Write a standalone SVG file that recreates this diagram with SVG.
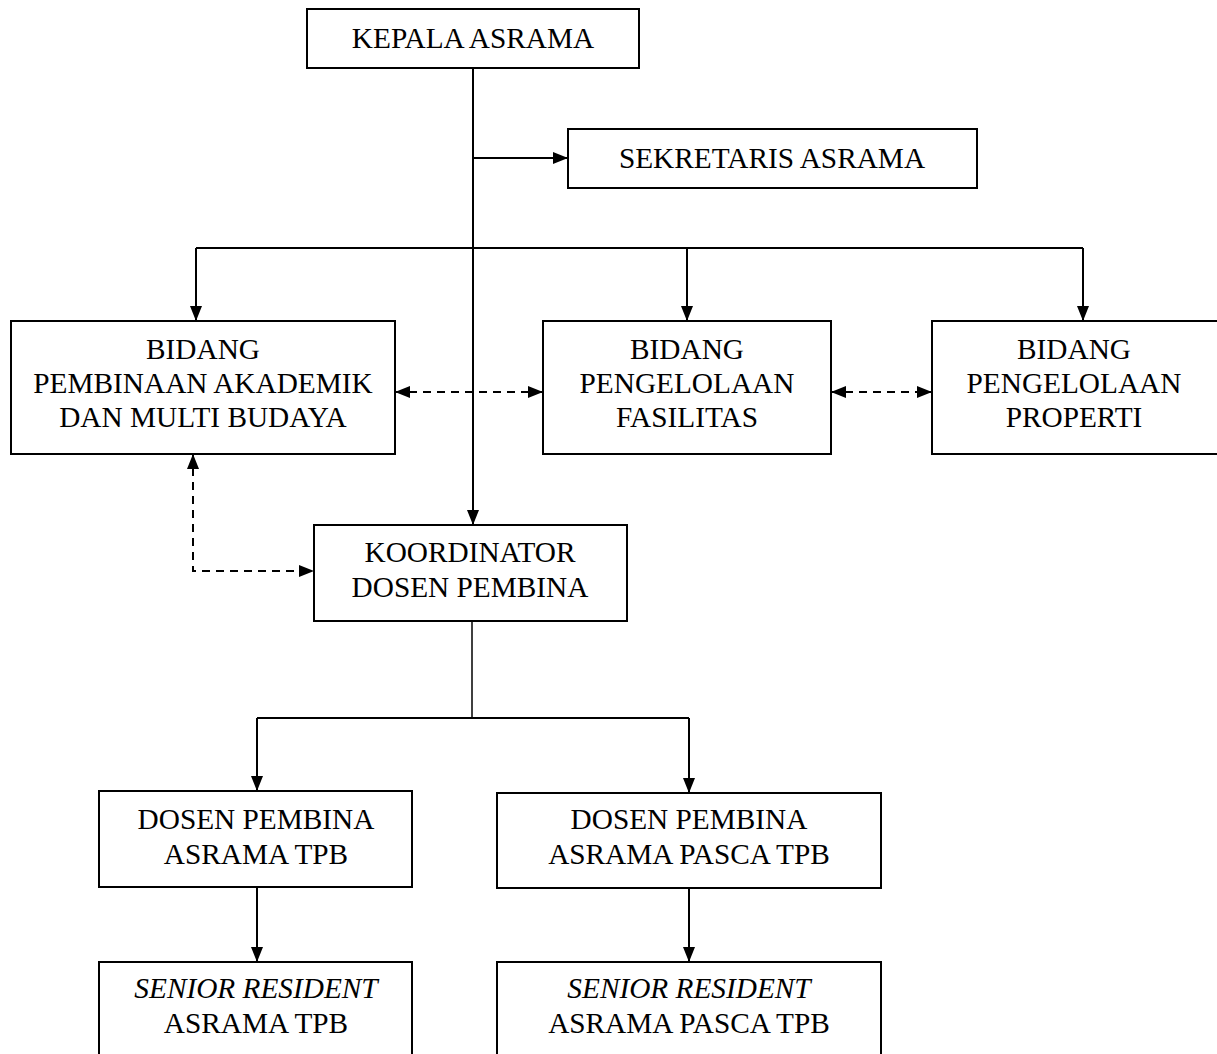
<svg xmlns="http://www.w3.org/2000/svg" width="1217" height="1054" viewBox="0 0 1217 1054">
<style>
.box{fill:#fff;stroke:#000;stroke-width:2}
.t{font-family:"Liberation Serif","Times New Roman",serif;font-size:29.3px;fill:#000;text-anchor:middle}
.i{font-style:italic}
.ln{fill:none;stroke:#000;stroke-width:2}
.thin{fill:none;stroke:#000;stroke-width:1.5}
.dash{fill:none;stroke:#000;stroke-width:2;stroke-dasharray:8 6}
</style>
<defs>
<marker id="ah" viewBox="0 0 15 12" refX="15" refY="6" markerWidth="15" markerHeight="12" orient="auto-start-reverse" markerUnits="userSpaceOnUse">
<path d="M0,0 L15,6 L0,12 z" fill="#000"/>
</marker>
</defs>
<rect width="1217" height="1054" fill="#fff"/>
<g id="connectors">
<path class="ln" d="M473,68 V525" marker-end="url(#ah)"/>
<path class="ln" d="M473,158 H568" marker-end="url(#ah)"/>
<path class="ln" d="M196,248 H1083"/>
<path class="ln" d="M196,248 V321" marker-end="url(#ah)"/>
<path class="ln" d="M687,248 V321" marker-end="url(#ah)"/>
<path class="ln" d="M1083,248 V321" marker-end="url(#ah)"/>
<path class="dash" d="M395,392 H543" marker-start="url(#ah)" marker-end="url(#ah)"/>
<path class="dash" d="M831,392 H932" marker-start="url(#ah)" marker-end="url(#ah)"/>
<path class="dash" d="M193,454 V571 H314" marker-start="url(#ah)" marker-end="url(#ah)"/>
<path class="thin" d="M472,621 V718"/>
<path class="ln" d="M257,718 H689"/>
<path class="ln" d="M257,718 V791" marker-end="url(#ah)"/>
<path class="ln" d="M689,718 V793" marker-end="url(#ah)"/>
<path class="ln" d="M257,887 V962" marker-end="url(#ah)"/>
<path class="ln" d="M689,888 V962" marker-end="url(#ah)"/>
</g>
<g id="kepala">
<rect class="box" x="307" y="9" width="332" height="59"/>
<text class="t" x="473" y="48">KEPALA ASRAMA</text>
</g>
<g id="sekretaris">
<rect class="box" x="568" y="129" width="409" height="59"/>
<text class="t" x="772" y="168">SEKRETARIS ASRAMA</text>
</g>
<g id="bidang-akademik">
<rect class="box" x="11" y="321" width="384" height="133"/>
<text class="t" x="203" y="359">BIDANG</text>
<text class="t" x="203" y="393">PEMBINAAN AKADEMIK</text>
<text class="t" x="203" y="427">DAN MULTI BUDAYA</text>
</g>
<g id="bidang-fasilitas">
<rect class="box" x="543" y="321" width="288" height="133"/>
<text class="t" x="687" y="359">BIDANG</text>
<text class="t" x="687" y="393">PENGELOLAAN</text>
<text class="t" x="687" y="427">FASILITAS</text>
</g>
<g id="bidang-properti">
<rect class="box" x="932" y="321" width="300" height="133"/>
<text class="t" x="1074" y="359">BIDANG</text>
<text class="t" x="1074" y="393">PENGELOLAAN</text>
<text class="t" x="1074" y="427">PROPERTI</text>
</g>
<g id="koordinator">
<rect class="box" x="314" y="525" width="313" height="96"/>
<text class="t" x="470" y="562">KOORDINATOR</text>
<text class="t" x="470" y="597">DOSEN PEMBINA</text>
</g>
<g id="dosen-tpb">
<rect class="box" x="99" y="791" width="313" height="96"/>
<text class="t" x="256" y="829">DOSEN PEMBINA</text>
<text class="t" x="256" y="864">ASRAMA TPB</text>
</g>
<g id="dosen-pasca">
<rect class="box" x="497" y="793" width="384" height="95"/>
<text class="t" x="689" y="829">DOSEN PEMBINA</text>
<text class="t" x="689" y="864">ASRAMA PASCA TPB</text>
</g>
<g id="senior-tpb">
<rect class="box" x="99" y="962" width="313" height="110"/>
<text class="t i" x="256" y="998">SENIOR RESIDENT</text>
<text class="t" x="256" y="1033">ASRAMA TPB</text>
</g>
<g id="senior-pasca">
<rect class="box" x="497" y="962" width="384" height="110"/>
<text class="t i" x="689" y="998">SENIOR RESIDENT</text>
<text class="t" x="689" y="1033">ASRAMA PASCA TPB</text>
</g>
</svg>
